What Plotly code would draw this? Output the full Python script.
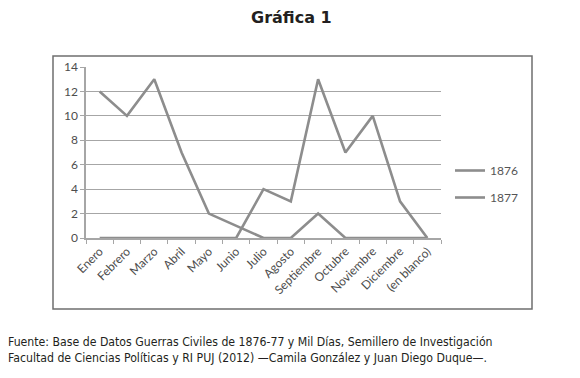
import plotly.graph_objects as go

meses = ["Enero", "Febrero", "Marzo", "Abril", "Mayo", "Junio", "Julio", "Agosto",
         "Septiembre", "Octubre", "Noviembre", "Diciembre", "(en blanco)"]
serie_1876 = [12, 10, 13, 7, 2, 1, 0, 0, 2, 0, 0, 0, 0]
serie_1877 = [0, 0, 0, 0, 0, 0, 4, 3, 13, 7, 10, 3, 0]
y_ticks = [0, 2, 4, 6, 8, 10, 12, 14]

OFF = 8  # page body margin
W, H = 580 - OFF, 378 - OFF
LINE = "#8d8d8d"
GRID = "#a6a6a6"


def px(x):
    return (x - OFF) / W


def py(y):
    return 1 - (y - OFF) / H


fig = go.Figure()
fig.add_trace(go.Scatter(x=meses, y=serie_1876, mode="lines", name="1876",
                         legendgroup="a", line=dict(color=LINE, width=2.6)))
fig.add_trace(go.Scatter(x=meses, y=serie_1877, mode="lines", name="1877",
                         legendgroup="b", line=dict(color=LINE, width=2.6)))

fig.update_layout(
    width=W, height=H,
    margin=dict(l=0, r=0, t=0, b=0, autoexpand=False),
    paper_bgcolor="white", plot_bgcolor="white",
    showlegend=True,
    legend=dict(x=px(450), y=py(156), xanchor="left", yanchor="top",
                font=dict(family="Lato", size=12, color="#555555"),
                itemwidth=30, tracegroupgap=8, bgcolor="rgba(0,0,0,0)"),
    xaxis=dict(domain=[px(86), px(441)], type="category", range=[-0.5, 12.5],
               automargin=False,
               tickson="boundaries", ticks="outside", ticklen=4, tickcolor=GRID,
               showline=True, linecolor=GRID, linewidth=1.5, showgrid=False,
               tickangle=-45, tickfont=dict(family="Lato", size=12, color="#4d4d4d")),
    yaxis=dict(domain=[py(238), py(67)], range=[0, 14], tickvals=y_ticks,
               automargin=False,
               ticks="outside", ticklen=4, tickcolor=GRID,
               showline=True, linecolor=GRID, linewidth=1.5,
               showgrid=True, gridcolor=GRID, gridwidth=1.2, zeroline=False,
               tickfont=dict(family="Lato", size=12, color="#4d4d4d")),
    shapes=[dict(type="rect", xref="paper", yref="paper",
                 x0=px(53), x1=px(532), y0=py(309), y1=py(56),
                 line=dict(color="#6f6f6f", width=1.5))],
    annotations=[
        dict(text="<b>Gráfica 1</b>", xref="paper", yref="paper",
             x=px(291), y=py(18), xanchor="center", yanchor="middle",
             showarrow=False, font=dict(family="DejaVu Sans", size=16, color="#231f20")),
        dict(text="Fuente: Base de Datos Guerras Civiles de 1876-77 y Mil Días, Semillero de Investigación<br>"
                  "Facultad de Ciencias Políticas y RI PUJ (2012) —Camila González y Juan Diego Duque—.",
             xref="paper", yref="paper", x=px(6), y=py(350),
             xanchor="left", yanchor="middle", align="left", showarrow=False,
             font=dict(family="DejaVu Sans Condensed", size=12.2, color="#231f20")),
    ],
)

fig.write_html("out.html")
